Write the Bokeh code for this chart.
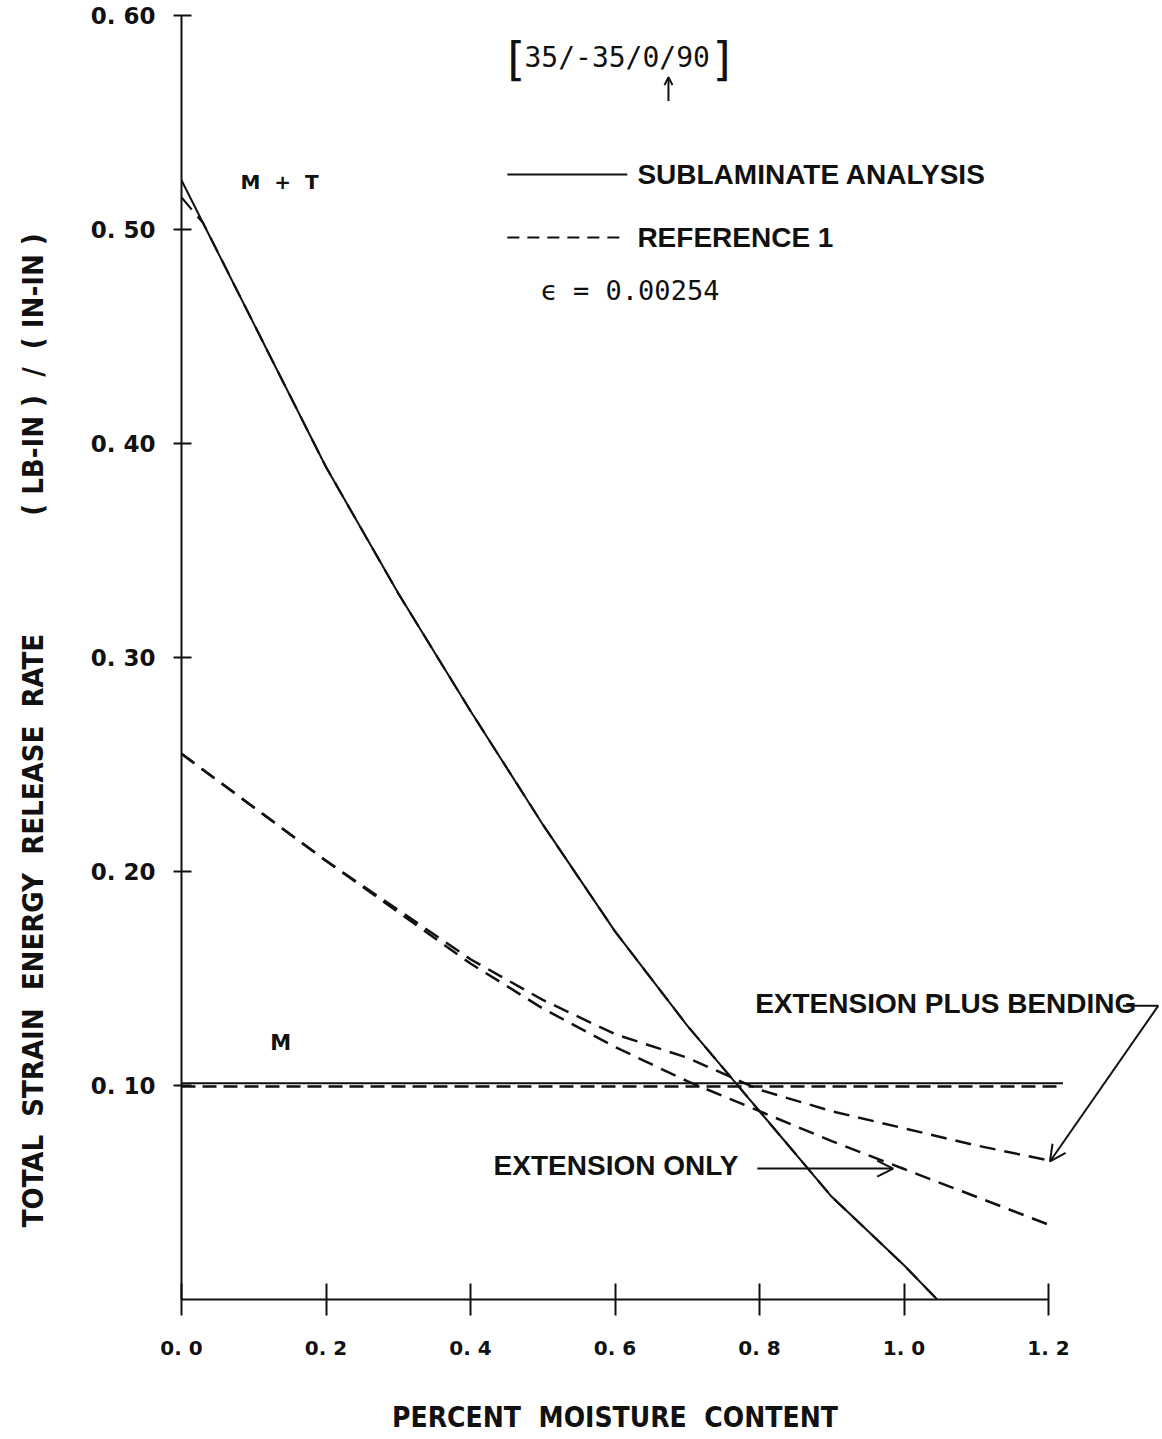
import numpy as np
from bokeh.plotting import figure
from bokeh.models import Range1d, FixedTicker, Label, Arrow, OpenHead
from bokeh.embed import file_html
from bokeh.resources import INLINE

# ---------------- data ----------------
moisture_mt = [0.0, 0.1, 0.2, 0.3, 0.4, 0.5, 0.6, 0.7, 0.8, 0.9, 1.0, 1.046]
g_sublam_mt = [0.523, 0.456, 0.389, 0.330, 0.275, 0.222, 0.172, 0.128, 0.088, 0.048, 0.016, 0.0]
moisture_ref_mt = [0.0, 0.03, 0.1, 0.2, 0.3, 0.4, 0.5, 0.6, 0.7, 0.8, 0.9, 1.0, 1.046]
g_ref_mt = [0.515, 0.503, 0.456, 0.389, 0.330, 0.275, 0.222, 0.172, 0.128, 0.088, 0.048, 0.016, 0.0]

moisture_ref = [0.0, 0.2, 0.4, 0.5, 0.6, 0.7, 0.8, 0.9, 1.0, 1.1, 1.2]
g_ext_bend = [0.255, 0.205, 0.159, 0.140, 0.124, 0.113, 0.098, 0.088, 0.080, 0.072, 0.065]
g_ext_only = [0.255, 0.205, 0.157, 0.136, 0.118, 0.102, 0.088, 0.074, 0.061, 0.048, 0.035]

moisture_m = [0.0, 1.22]
g_sublam_m = [0.101, 0.101]
g_ref_m = [0.0995, 0.0995]

x_ticks = [0.0, 0.2, 0.4, 0.6, 0.8, 1.0, 1.2]
x_tick_labels = ["0. 0", "0. 2", "0. 4", "0. 6", "0. 8", "1. 0", "1. 2"]
y_ticks = [0.1, 0.2, 0.3, 0.4, 0.5, 0.6]
y_tick_labels = ["0. 10", "0. 20", "0. 30", "0. 40", "0. 50", "0. 60"]

# ---------------- layout ----------------
PX_PER_X = 722.5      # pixels per unit of moisture
PX_PER_Y = 2140.0     # pixels per unit of G
W, H = 1160, 1437
ORIGIN_X, ORIGIN_Y = 181, 1299   # pixel position of (0, 0) on the canvas
x_range = Range1d(-ORIGIN_X / PX_PER_X, (W - ORIGIN_X) / PX_PER_X)
y_range = Range1d(-(H - ORIGIN_Y) / PX_PER_Y, ORIGIN_Y / PX_PER_Y)

p = figure(width=W, height=H, x_range=x_range, y_range=y_range,
           output_backend="svg", toolbar_location=None,
           min_border_left=0, min_border_right=0, min_border_top=0, min_border_bottom=0)
p.grid.visible = False
p.outline_line_color = None
p.background_fill_color = "white"
p.border_fill_color = "white"

DASH = "16 9"
BLACK = "#111111"

p.line(moisture_ref_mt, g_ref_mt, line_color=BLACK, line_width=2.2, line_dash=DASH)
p.line(moisture_mt, g_sublam_mt, line_color=BLACK, line_width=2)
p.line(moisture_ref, g_ext_bend, line_color=BLACK, line_width=2.5, line_dash=DASH)
p.line(moisture_ref, g_ext_only, line_color=BLACK, line_width=2.5, line_dash=DASH)
p.line(moisture_m, g_sublam_m, line_color=BLACK, line_width=2)
p.line(moisture_m, g_ref_m, line_color=BLACK, line_width=2.5, line_dash="14 7")

# ---------------- axes (fixed at the data origin) ----------------
TICK_FONT = "DejaVu Sans"
for ax in (p.xaxis[0], p.yaxis[0]):
    ax.fixed_location = 0
    ax.axis_line_width = 2
    ax.axis_line_color = BLACK
    ax.major_tick_line_width = 2
    ax.major_tick_line_color = BLACK
    ax.minor_tick_line_color = None
    ax.major_label_text_font = TICK_FONT
    ax.major_label_text_font_style = "bold"
    ax.major_label_text_color = BLACK

p.xaxis.bounds = (0, 1.2)
p.xaxis.ticker = FixedTicker(ticks=x_ticks)
p.xaxis.major_label_overrides = dict(zip(x_ticks, x_tick_labels))
p.xaxis.major_tick_in = 16
p.xaxis.major_tick_out = 16
p.xaxis.major_label_standoff = 20
p.xaxis.major_label_text_font_size = "20px"

p.yaxis.bounds = (0, 0.6)
p.yaxis.ticker = FixedTicker(ticks=y_ticks)
p.yaxis.major_label_overrides = dict(zip(y_ticks, y_tick_labels))
p.yaxis.major_tick_in = 10
p.yaxis.major_tick_out = 8
p.yaxis.major_label_standoff = 18
p.yaxis.major_label_text_font_size = "23px"

# ---------------- axis titles ----------------
TITLE_FONT = "DejaVu Sans Condensed"
NB = "\u00a0"
SP2 = NB + " "
p.add_layout(Label(x=0.600, y=-0.0551, text="PERCENT" + SP2 + "MOISTURE" + SP2 + "CONTENT",
                   text_font=TITLE_FONT, text_font_style="bold", text_font_size="28px",
                   text_align="center", text_baseline="middle", text_color=BLACK))
ytitle = ("TOTAL" + SP2 + "STRAIN" + SP2 + "ENERGY" + SP2 + "RELEASE" + SP2 + "RATE"
          + (NB + " ") * 6 + NB + "( LB-IN )" + SP2 + "/" + SP2 + "( IN-IN )")
p.add_layout(Label(x=-0.206, y=0.2660, text=ytitle, angle=np.pi / 2,
                   text_font=TITLE_FONT, text_font_style="bold", text_font_size="29px",
                   text_align="center", text_baseline="middle", text_color=BLACK))

# ---------------- annotations ----------------
ANN_FONT = "Liberation Sans"
def ann(x, y, text, size="28px", style="bold", font=ANN_FONT, align="left"):
    p.add_layout(Label(x=x, y=y, text=text, text_font=font, text_font_style=style,
                       text_font_size=size, text_align=align, text_baseline="middle",
                       text_color=BLACK))

# legend keys
p.line([0.451, 0.617], [0.5257, 0.5257], line_color=BLACK, line_width=2)
p.line([0.451, 0.617], [0.4963, 0.4963], line_color=BLACK, line_width=2, line_dash="12 8")
ann(0.631, 0.5257, "SUBLAMINATE ANALYSIS")
ann(0.631, 0.4963, "REFERENCE 1")
ann(0.497, 0.4715, "\u03f5 = 0.00254", size="27px", style="normal", font="DejaVu Sans Mono")

# laminate stacking
ann(0.603, 0.5806, "35/-35/0/90", size="28px", style="normal", font="DejaVu Sans Mono", align="center")
ann(0.451, 0.5795, "[", size="46px", style="normal", font="DejaVu Sans")
ann(0.760, 0.5795, "]", size="46px", style="normal", font="DejaVu Sans", align="right")
p.add_layout(Arrow(end=OpenHead(size=8, line_width=2, line_color=BLACK),
                   x_start=0.674, y_start=0.5600, x_end=0.674, y_end=0.5712,
                   line_width=2, line_color=BLACK))

ann(0.0817, 0.5224, "M" + SP2 + "+" + SP2 + "T", size="20px", font="DejaVu Sans")
ann(0.123, 0.1200, "M", size="21px", font="DejaVu Sans")

ann(0.794, 0.1383, "EXTENSION PLUS BENDING")
p.line([1.303, 1.352], [0.1373, 0.1373], line_color=BLACK, line_width=2)
p.add_layout(Arrow(end=OpenHead(size=16, line_width=2, line_color=BLACK),
                   x_start=1.352, y_start=0.1373, x_end=1.202, y_end=0.0645,
                   line_width=2, line_color=BLACK))

ann(0.432, 0.0626, "EXTENSION ONLY")
p.add_layout(Arrow(end=OpenHead(size=16, line_width=2, line_color=BLACK),
                   x_start=0.797, y_start=0.0612, x_end=0.985, y_end=0.0612,
                   line_width=2, line_color=BLACK))

open("out.html", "w").write(file_html(p, INLINE))
